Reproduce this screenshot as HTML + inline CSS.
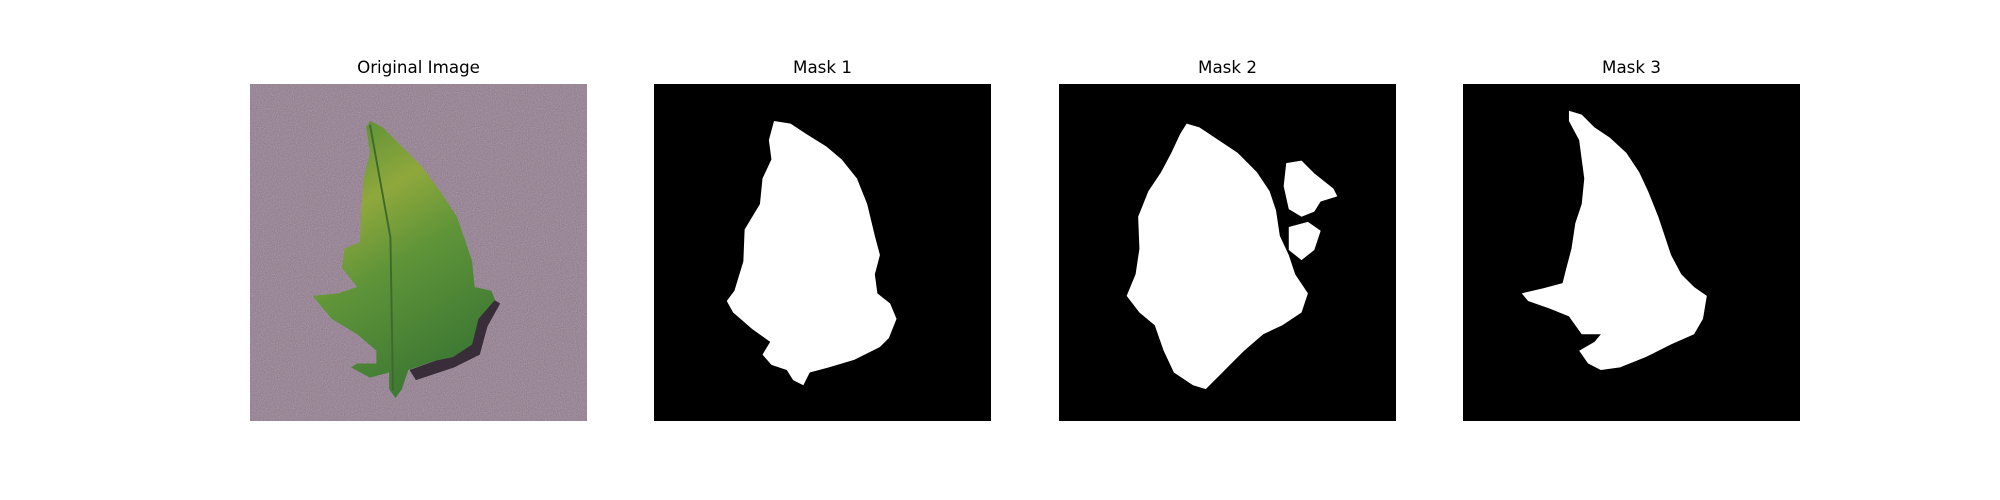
<!DOCTYPE html>
<html><head><meta charset="utf-8"><style>
html,body{margin:0;padding:0;background:#fff;width:2000px;height:500px;overflow:hidden}
.ax{position:absolute;top:84px;width:337px;height:337px}
.t{position:absolute;top:57px;width:337px;text-align:center;font:16.7px "DejaVu Sans","Liberation Sans",sans-serif;color:#000}
svg{display:block}
</style></head><body>
<div class="t" style="left:250px">Original Image</div>
<div class="t" style="left:654px">Mask 1</div>
<div class="t" style="left:1059px">Mask 2</div>
<div class="t" style="left:1463px">Mask 3</div>

<div class="ax" style="left:250px">
<svg width="337" height="337" viewBox="0 0 264 264">
<defs><filter id="n"><feTurbulence type="fractalNoise" baseFrequency="1.2" numOctaves="2"/><feColorMatrix type="matrix" values="0 0 0 0 1  0 0 0 0 1  0 0 0 0 1  0 0 0 0.35 -0.05"/></filter>
<linearGradient id="lg" x1="0" y1="0" x2="0.4" y2="1"><stop offset="0" stop-color="#4f8a35"/><stop offset="0.35" stop-color="#8fa83c"/><stop offset="0.6" stop-color="#5f9438"/><stop offset="1" stop-color="#3f7a34"/></linearGradient></defs>
<rect width="264" height="264" fill="#8c7789"/>
<rect width="264" height="264" filter="url(#n)"/>
<polygon points="176,160 196,172 186,190 180,212 160,222 130,232 125,224 150,215 172,200" fill="#3a2d3a"/>
<polygon points="94,29 104,34 119,49 134,64 149,84 162,104 169,124 174,139 176,159 189,162 192,169 179,184 174,204 159,214 144,217 124,224 119,239 114,246 109,239 109,226 94,230 79,222 84,219 99,219 99,209 84,196 64,184 49,166 69,164 84,159 72,144 74,129 86,124 87,99 89,74 94,54 91,34" fill="url(#lg)"/>
<polyline points="94,32 110,120 112,240" fill="none" stroke="#3d6a2c" stroke-width="1.5"/>
</svg></div>

<div class="ax" style="left:654px">
<svg width="337" height="337" viewBox="0 0 264 264"><rect width="264" height="264" fill="#000"/>
<polygon fill="#fff" points="94,29 107,31 119,39 135,49 147,59 159,74 167,94 173,119 177,134 173,149 175,164 185,172 190,184 184,199 177,206 157,216 137,222 122,226 117,236 109,232 104,224 92,220 85,212 91,202 77,192 62,179 57,170 63,162 70,139 71,114 83,94 85,74 92,59 90,44"/>
</svg></div>

<div class="ax" style="left:1059px">
<svg width="337" height="337" viewBox="0 0 264 264"><rect width="264" height="264" fill="#000"/>
<polygon fill="#fff" points="100,31 110,34 125,44 140,54 155,69 165,84 170,99 173,119 180,134 185,149 195,164 190,179 175,189 160,196 145,209 135,219 125,229 115,239 105,236 90,226 82,209 75,189 63,179 53,166 60,149 63,129 62,104 70,84 80,69 88,54 95,39"/>
<polygon fill="#fff" points="178,62 190,60 200,70 215,82 218,88 205,92 200,100 190,104 180,98 176,80"/>
<polygon fill="#fff" points="180,112 195,108 205,115 200,130 190,138 180,130"/>
</svg></div>

<div class="ax" style="left:1463px">
<svg width="337" height="337" viewBox="0 0 264 264"><rect width="264" height="264" fill="#000"/>
<polygon fill="#fff" points="83,21 93,24 103,34 115,42 128,54 138,69 145,84 153,104 158,119 163,134 171,149 181,159 191,166 188,184 181,196 163,204 143,214 123,222 108,224 98,219 91,209 103,202 108,196 93,196 83,182 68,176 51,170 46,164 63,160 78,156 81,144 85,129 88,109 93,94 95,74 93,59 91,44 83,29"/>
</svg></div>
</body></html>
